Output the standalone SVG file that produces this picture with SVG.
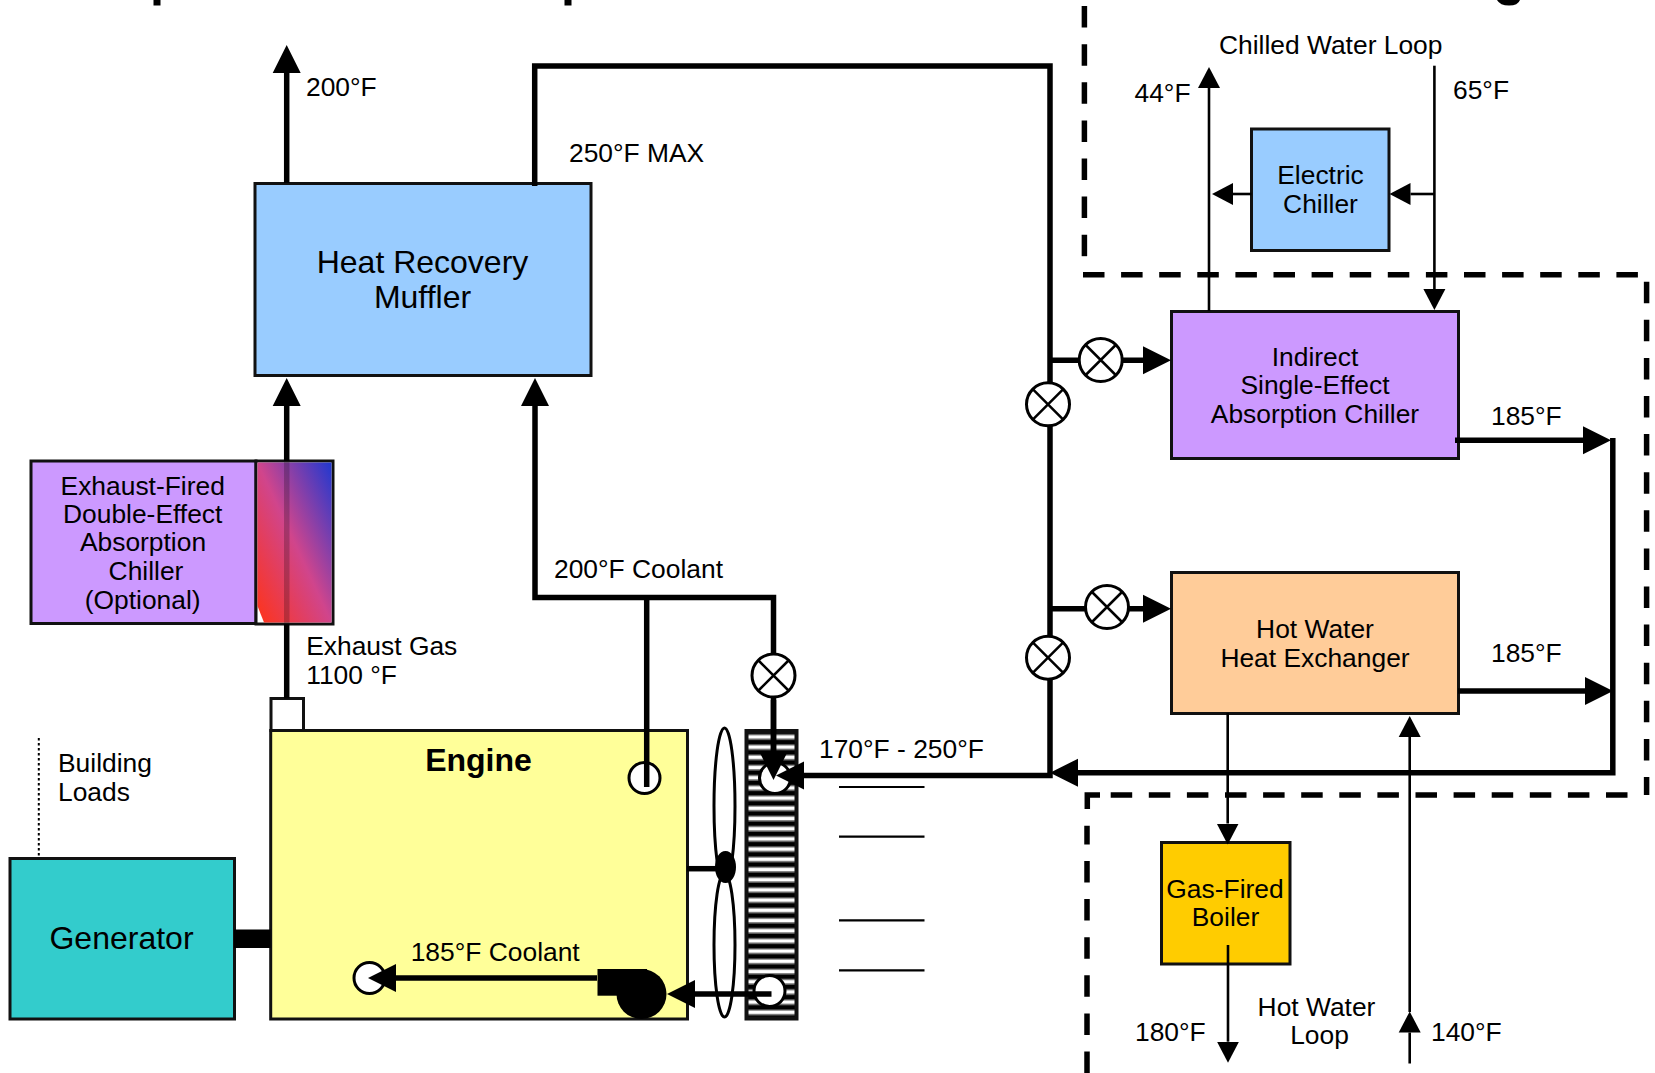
<svg xmlns="http://www.w3.org/2000/svg" width="1655" height="1073" viewBox="0 0 1655 1073">
<style>
text{font-family:"Liberation Sans",Arial,sans-serif;font-size:26.4px;fill:#000}
.big{font-size:32px}
.c{text-anchor:middle}
.box{stroke:#111;stroke-width:3}
.thick{fill:none;stroke:#000;stroke-width:5.5}
.thin{fill:none;stroke:#000;stroke-width:2.6}
.dash{fill:none;stroke:#000;stroke-width:5.5;stroke-dasharray:21.5 16.6}
.vc,.port{fill:#fff;stroke:#000;stroke-width:3}
.vx{fill:none;stroke:#000;stroke-width:2.5}
.tick{stroke:#000;stroke-width:2.2}
</style>
<defs>
<marker id="hv" markerUnits="userSpaceOnUse" markerWidth="30" markerHeight="30" refX="0" refY="15" orient="auto"><polygon points="0,1 28,15 0,29" fill="#000"/></marker>
<marker id="lt" markerUnits="userSpaceOnUse" markerWidth="22" markerHeight="24" refX="0" refY="12" orient="auto"><polygon points="0,1 21,12 0,23" fill="#000"/></marker>
<linearGradient id="exh" x1="0" y1="1" x2="1" y2="0"><stop offset="0" stop-color="#ff3318"/><stop offset="0.5" stop-color="#d0458c"/><stop offset="1" stop-color="#2038d0"/></linearGradient>
<pattern id="fins" patternUnits="userSpaceOnUse" x="0" y="730" width="10" height="10.2"><rect width="10" height="10.2" fill="#000"/><rect y="4.2" width="10" height="1" fill="#999"/><rect y="5.2" width="10" height="3.6" fill="#fff"/><rect y="8.8" width="10" height="1" fill="#999"/></pattern>
<g id="valve-shape"><circle class="vc" r="21.5"/><path class="vx" d="M-15-15L15 15M-15 15L15-15"/></g>
</defs>

<g id="title-remnants" fill="#000">
<rect x="153.5" y="0" width="7" height="5.5"/>
<rect x="564.5" y="0" width="7" height="5.5"/>
<path d="M1497 0Q1500 5.5 1509 5.5Q1518 5.5 1520 0Z"/>
</g>

<g id="boundaries">
<path class="dash" d="M1084.4-32V257"/>
<path class="dash" d="M1083 274.7H1640"/>
<path class="dash" d="M1646.6 281.7V795"/>
<path class="dash" d="M1087 1073V825.7"/>
<path class="dash" d="M1110.7 795H1640"/>
<path d="M1087.3 809V795H1100" fill="none" stroke="#000" stroke-width="5.5"/>
</g>

<g id="heat-recovery-muffler"><rect class="box" x="255" y="183.5" width="336" height="192" fill="#9cf"/><text class="big c" x="422.5" y="272.5">Heat Recovery</text><text class="big c" x="422.5" y="307.5">Muffler</text></g>

<g id="absorption-chiller-optional">
<rect class="box" x="31" y="461" width="225" height="162.5" fill="#c9f"/>
<rect x="256" y="461" width="77" height="163" fill="#fff" stroke="#111" stroke-width="3"/>
<polygon points="257.5,462.5 331.5,462.5 331.5,622.5 264,622.5 257.5,606" fill="url(#exh)"/>
<text class="c" x="142.7" y="494.5">Exhaust-Fired</text><text class="c" x="142.7" y="523">Double-Effect</text><text class="c" x="143" y="551">Absorption</text><text class="c" x="146" y="580">Chiller</text><text class="c" x="142.7" y="608.5">(Optional)</text>
<rect x="284" y="462" width="5.5" height="161" fill="#000" opacity=".22"/>
</g>

<g id="exhaust-stack"><rect x="271" y="698.5" width="32.5" height="32" fill="#fff" stroke="#111" stroke-width="3"/></g>
<g id="engine"><rect class="box" x="270.7" y="730.5" width="416.8" height="288.5" fill="#ff9"/><text class="big c" x="478.5" y="770.5" font-weight="700">Engine</text></g>
<g id="generator"><rect class="box" x="10" y="858.5" width="224.5" height="160.5" fill="#3cc"/><text class="big c" x="121.5" y="949">Generator</text></g>
<g id="electric-chiller"><rect class="box" x="1251.5" y="129" width="137.5" height="121.5" fill="#9cf"/><text class="c" x="1320.5" y="184">Electric</text><text class="c" x="1320.5" y="213">Chiller</text></g>
<g id="indirect-chiller"><rect class="box" x="1171.5" y="311.5" width="287" height="147" fill="#c9f"/><text class="c" x="1315" y="365.5">Indirect</text><text class="c" x="1315" y="394">Single-Effect</text><text class="c" x="1315" y="423">Absorption Chiller</text></g>
<g id="hot-water-hx"><rect class="box" x="1171.5" y="572.5" width="287" height="141" fill="#fc9"/><text class="c" x="1315" y="637.5">Hot Water</text><text class="c" x="1315" y="666.5">Heat Exchanger</text></g>
<g id="boiler"><rect class="box" x="1161.5" y="842.5" width="128.5" height="121.5" fill="#fc0"/><text class="c" x="1225" y="897.5">Gas-Fired</text><text class="c" x="1225.5" y="926">Boiler</text></g>

<g id="radiator"><rect x="746.5" y="731" width="50" height="287.5" fill="url(#fins)" stroke="#111" stroke-width="4"/></g>
<g id="ports">
<circle class="port" cx="644.5" cy="778" r="15.5"/>
<circle class="port" cx="775" cy="778" r="15.5"/>
<circle class="port" cx="769.5" cy="991" r="15.5"/>
<circle class="port" cx="369.5" cy="978" r="15.5"/>
</g>
<g id="fan" fill="#fff" stroke="#000" stroke-width="3">
<ellipse cx="724.5" cy="806" rx="10.5" ry="78"/>
<ellipse cx="724.5" cy="945" rx="10.5" ry="72"/>
<ellipse cx="725.5" cy="867" rx="9" ry="14.5" fill="#000"/>
</g>

<g id="connectors">
<path class="thick" d="M286.7 183V73" marker-end="url(#hv)"/>
<path class="thick" d="M286.7 698.5V624M286.7 461V406" marker-end="url(#hv)"/>
<path class="thick" d="M646.7 787V597.5"/>
<path class="thick" d="M773.5 752V597.5H535V406" marker-end="url(#hv)"/>
<path class="thick" d="M773.5 700V752" marker-end="url(#hv)"/>
<path class="thick" d="M534.7 186V66H1050V775.5H804" marker-end="url(#hv)"/>
<path class="thick" d="M1612.8 438V772.7H1078" marker-end="url(#hv)"/>
<path class="thick" d="M1050 360.3H1143" marker-end="url(#hv)"/>
<path class="thick" d="M1050 608.7H1143" marker-end="url(#hv)"/>
<path class="thick" d="M1455 440.3H1583" marker-end="url(#hv)"/>
<path class="thick" d="M1458 691H1585" marker-end="url(#hv)"/>
<path class="thick" d="M771.5 994H695" marker-end="url(#hv)"/>
<path class="thick" d="M597 978H396" marker-end="url(#hv)"/>
<path class="thick" d="M687 868.7H716"/>
<rect x="234" y="929.5" width="36.5" height="18.5" fill="#000"/>
<path d="M38.8 738V858" fill="none" stroke="#000" stroke-width="2" stroke-dasharray="2.5 2.5"/>
<path class="thin" d="M1209 311V88" marker-end="url(#lt)"/>
<path class="thin" d="M1434.4 65.7V289" marker-end="url(#lt)"/>
<path class="thin" d="M1434.4 194H1410.5" marker-end="url(#lt)"/>
<path class="thin" d="M1251.5 194H1233" marker-end="url(#lt)"/>
<path class="thin" d="M1227.7 713V823.5" marker-end="url(#lt)"/>
<path class="thin" d="M1228 945V1041.7" marker-end="url(#lt)"/>
<path class="thin" d="M1409.7 1063.5V1032.5" marker-end="url(#lt)"/>
<path class="thin" d="M1409.7 1012V737" marker-end="url(#lt)"/>
</g>

<g id="pump" fill="#000"><rect x="597.5" y="969" width="49.5" height="26.7"/><circle cx="641.5" cy="994" r="25"/></g>

<g id="airflow">
<path class="tick" d="M839 787H924.5M839 836.7H924.5M839 920.3H924.5M839 970.3H924.5"/>
</g>

<g id="valve-1"><use href="#valve-shape" x="773.5" y="675.5"/></g>
<g id="valve-2"><use href="#valve-shape" x="1048" y="404.3"/></g>
<g id="valve-3"><use href="#valve-shape" x="1048" y="657.7"/></g>
<g id="valve-4"><use href="#valve-shape" x="1100.7" y="360"/></g>
<g id="valve-5"><use href="#valve-shape" x="1107" y="607"/></g>

<g id="labels">
<text x="306" y="96">200°F</text>
<text x="569" y="162.3">250°F MAX</text>
<text x="306.2" y="655">Exhaust Gas</text>
<text x="306.2" y="684">1100 °F</text>
<text x="554" y="578">200°F Coolant</text>
<text x="819" y="757.5">170°F - 250°F</text>
<text x="58" y="772">Building</text>
<text x="58" y="801">Loads</text>
<text x="410.7" y="961">185°F Coolant</text>
<text x="1219" y="54">Chilled Water Loop</text>
<text x="1134.5" y="102">44°F</text>
<text x="1453" y="99">65°F</text>
<text x="1491" y="425">185°F</text>
<text x="1491" y="662">185°F</text>
<text x="1135" y="1041">180°F</text>
<text x="1431" y="1041">140°F</text>
<text class="c" x="1316.5" y="1016">Hot Water</text>
<text class="c" x="1319.5" y="1044">Loop</text>
</g>
</svg>
